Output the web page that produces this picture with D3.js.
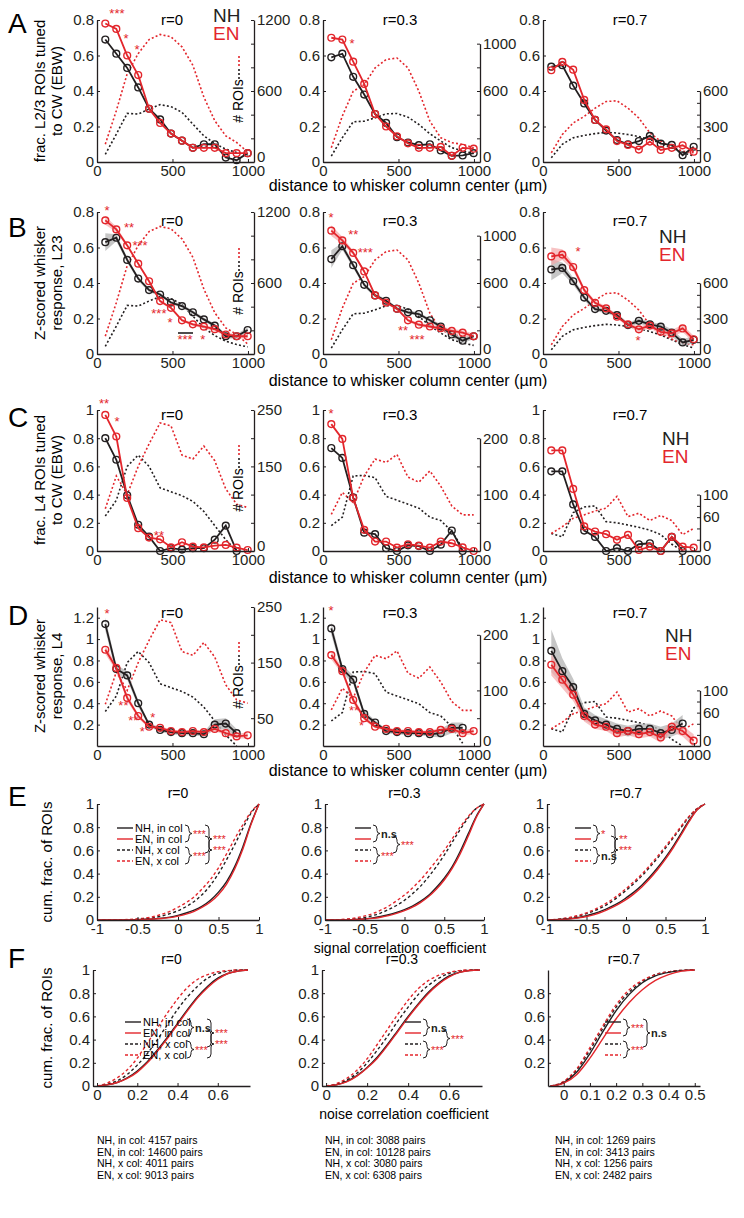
<!DOCTYPE html>
<html><head><meta charset="utf-8">
<script src="https://cdn.jsdelivr.net/npm/d3@7"></script>
<style>body{margin:0;background:#fff} svg{font-family:"Liberation Sans",Arial,sans-serif}</style>
</head><body><svg id="c" width="744" height="1218"></svg>
<script>
// ---------- data ----------
const distX = [55,128,200,273,345,418,490,563,635,708,780,853,925,998];
const distTicks = [0,500,1000];

const A_NH = [[0.69,0.61,0.53,0.42,0.30,0.24,0.16,0.12,0.08,0.10,0.10,0.025,0.01,0.05],
              [0.59,0.61,0.48,0.38,0.27,0.22,0.14,0.11,0.095,0.10,0.065,0.035,0.037,0.05],
              [0.537,0.545,0.43,0.33,0.237,0.177,0.124,0.10,0.118,0.147,0.103,0.096,0.038,0.086]];
const A_EN = [[0.78,0.75,0.60,0.49,0.30,0.22,0.16,0.12,0.08,0.08,0.08,0.05,0.05,0.05],
              [0.70,0.69,0.565,0.44,0.27,0.20,0.145,0.105,0.08,0.08,0.085,0.035,0.08,0.075],
              [0.517,0.564,0.52,0.35,0.237,0.184,0.118,0.096,0.07,0.115,0.068,0.08,0.094,0.058]];
const B_NH = [[0.63,0.655,0.53,0.425,0.36,0.335,0.29,0.27,0.235,0.195,0.16,0.10,0.10,0.135],
              [0.535,0.607,0.50,0.39,0.33,0.30,0.255,0.235,0.225,0.19,0.155,0.11,0.075,0.10],
              [0.476,0.485,0.41,0.318,0.253,0.243,0.219,0.163,0.187,0.167,0.154,0.12,0.065,0.08]];
const B_EN = [[0.753,0.702,0.612,0.509,0.41,0.298,0.26,0.19,0.167,0.154,0.14,0.11,0.10,0.10],
              [0.695,0.64,0.57,0.465,0.33,0.29,0.255,0.19,0.165,0.155,0.145,0.13,0.12,0.10],
              [0.55,0.56,0.49,0.36,0.288,0.257,0.21,0.167,0.139,0.16,0.125,0.116,0.144,0.083]];
const B_NH_sem = [[0.05,0.02,0.015,0.012,0.01,0.01,0.01,0.01,0.01,0.01,0.01,0.012,0.012,0.015],
                  [0.05,0.02,0.015,0.012,0.01,0.01,0.01,0.01,0.01,0.01,0.012,0.015,0.015,0.015],
                  [0.06,0.03,0.02,0.015,0.012,0.012,0.012,0.012,0.015,0.015,0.015,0.02,0.02,0.02]];
const B_EN_sem = [[0.025,0.015,0.01,0.01,0.008,0.008,0.008,0.008,0.008,0.01,0.01,0.01,0.012,0.012],
                  [0.03,0.02,0.012,0.01,0.008,0.008,0.008,0.008,0.01,0.01,0.01,0.012,0.012,0.015],
                  [0.05,0.03,0.02,0.015,0.012,0.012,0.012,0.012,0.015,0.015,0.015,0.02,0.02,0.02]];
const L23_NH_cnt = [[65,235,411,405,448,485,468,420,320,221,156,108,80,60],
                    [50,205,340,345,373,407,410,379,317,239,177,121,93,73],
                    [36,150,204,225,240,251,245,232,215,190,160,120,80,50]];
const L23_EN_cnt = [[150,434,746,916,1035,1078,1058,973,817,548,349,221,165,85],
                    [121,388,598,654,795,865,879,795,598,345,205,163,149,121],
                    [78,232,330,385,455,511,517,455,371,246,176,126,92,78]];
const C_NH = [[0.80,0.647,0.395,0.186,0.102,0.0,0.02,0.01,0.02,0.02,0.08,0.18,0.0],
              [0.73,0.66,0.38,0.13,0.12,0.02,0.0,0.04,0.035,0.0,0.045,0.145,0.0],
              [0.565,0.565,0.33,0.145,0.10,0.0,0.02,0.0,0.048,0.055,0.0,0.10,0.0]];
const C_EN = [[0.965,0.812,0.376,0.162,0.095,0.083,0.026,0.062,0.031,0.026,0.038,0.043,0.024,0.007],
              [0.90,0.795,0.376,0.15,0.067,0.067,0.024,0.048,0.038,0.024,0.067,0.055,0.026,0.0],
              [0.713,0.713,0.44,0.174,0.138,0.119,0.079,0.114,0.007,0.031,0.0,0.10,0.031,0.024]];
const D_NH = [[1.14,0.72,0.66,0.40,0.20,0.15,0.13,0.12,0.12,0.11,0.20,0.21,0.12],
              [1.10,0.72,0.62,0.30,0.22,0.14,0.13,0.12,0.12,0.11,0.12,0.17,0.17],
              [0.89,0.70,0.55,0.30,0.24,0.20,0.16,0.14,0.16,0.16,0.12,0.15,0.21]];
const D_EN = [[0.90,0.73,0.45,0.28,0.18,0.17,0.14,0.13,0.14,0.13,0.16,0.12,0.09,0.10],
              [0.85,0.70,0.43,0.26,0.18,0.16,0.14,0.14,0.13,0.13,0.15,0.16,0.12,0.14],
              [0.76,0.62,0.48,0.28,0.20,0.18,0.12,0.14,0.11,0.13,0.08,0.18,0.14,0.05]];
const D_NH_sem = [[0.06,0.04,0.04,0.03,0.02,0.02,0.02,0.02,0.02,0.02,0.05,0.05,0.04],
                  [0.06,0.04,0.04,0.03,0.02,0.02,0.02,0.02,0.02,0.02,0.04,0.05,0.05],
                  [0.20,0.12,0.08,0.06,0.05,0.05,0.05,0.05,0.05,0.05,0.06,0.06,0.08]];
const D_EN_sem = [[0.04,0.03,0.03,0.02,0.015,0.015,0.015,0.015,0.015,0.015,0.02,0.02,0.02,0.03],
                  [0.04,0.03,0.03,0.02,0.015,0.015,0.015,0.015,0.015,0.015,0.02,0.02,0.02,0.03],
                  [0.10,0.08,0.06,0.05,0.04,0.04,0.04,0.04,0.04,0.04,0.05,0.05,0.05,0.06]];
const L4_NH_cnt = [[62,90,150,170,150,112,105,98,88,70,45,20,0],
                   [45,60,133,134,130,97,90,83,76,60,54,35,5],
                   [31,25,68,78,80,52,50,46,42,37,29,12,0]];
const L4_EN_cnt = [[75,133,100,150,190,227,222,170,163,186,160,110,83,77],
                   [65,104,86,133,163,157,171,131,122,142,115,80,64,64],
                   [31,43,58,64,71,76,97,61,67,54,63,54,29,40]];

const sigX = [-1,-0.9,-0.8,-0.7,-0.6,-0.5,-0.4,-0.3,-0.2,-0.1,0,0.1,0.2,0.3,0.4,0.5,0.6,0.7,0.8,0.9,1];
const E_NHin = [[0,0,0,0,0,0.003,0.006,0.01,0.016,0.025,0.04,0.06,0.085,0.12,0.17,0.24,0.33,0.46,0.63,0.83,1],
                [0,0,0,0.002,0.005,0.01,0.018,0.03,0.045,0.065,0.09,0.12,0.16,0.21,0.28,0.36,0.46,0.59,0.74,0.89,1],
                [0,0.002,0.006,0.012,0.022,0.037,0.056,0.08,0.11,0.145,0.19,0.24,0.3,0.37,0.45,0.54,0.64,0.75,0.86,0.95,1]];
const E_ENin = [[0,0,0,0,0,0.002,0.004,0.008,0.013,0.02,0.033,0.05,0.075,0.11,0.155,0.22,0.31,0.44,0.61,0.82,1],
                [0,0,0,0.001,0.004,0.008,0.014,0.024,0.038,0.057,0.08,0.11,0.15,0.2,0.265,0.345,0.445,0.57,0.72,0.88,1],
                [0,0.001,0.004,0.01,0.018,0.03,0.047,0.07,0.1,0.135,0.175,0.225,0.285,0.355,0.435,0.525,0.625,0.735,0.85,0.95,1]];
const E_NHx = [[0,0,0,0,0.002,0.006,0.012,0.02,0.035,0.055,0.08,0.115,0.16,0.22,0.3,0.4,0.52,0.65,0.79,0.92,1],
               [0,0,0.002,0.006,0.012,0.022,0.038,0.06,0.09,0.125,0.17,0.225,0.29,0.37,0.46,0.56,0.67,0.78,0.88,0.96,1],
               [0,0.003,0.01,0.02,0.035,0.055,0.08,0.11,0.15,0.2,0.255,0.315,0.38,0.455,0.535,0.62,0.71,0.8,0.89,0.96,1]];
const E_ENx = [[0,0,0,0.002,0.005,0.01,0.018,0.03,0.05,0.075,0.11,0.15,0.2,0.27,0.35,0.45,0.57,0.7,0.82,0.93,1],
               [0,0.001,0.004,0.01,0.02,0.035,0.055,0.085,0.12,0.165,0.215,0.275,0.345,0.425,0.51,0.6,0.7,0.8,0.89,0.96,1],
               [0,0.004,0.012,0.024,0.04,0.062,0.09,0.125,0.165,0.215,0.27,0.33,0.395,0.47,0.55,0.635,0.72,0.81,0.895,0.96,1]];

const noiseX = [[0,0.05,0.1,0.15,0.2,0.25,0.3,0.35,0.4,0.45,0.5,0.55,0.6,0.65,0.7,0.75],
                [0,0.05,0.1,0.15,0.2,0.25,0.3,0.35,0.4,0.45,0.5,0.55,0.6,0.65,0.7,0.75],
                [-0.05,0,0.05,0.1,0.15,0.2,0.25,0.3,0.35,0.4,0.45,0.5]];
const F_NHin = [[0,0.01,0.03,0.07,0.13,0.21,0.31,0.42,0.54,0.66,0.77,0.86,0.93,0.97,0.99,1],
                [0,0.01,0.04,0.09,0.16,0.25,0.36,0.48,0.6,0.71,0.81,0.89,0.95,0.98,0.995,1],
                [0,0.03,0.12,0.28,0.47,0.65,0.79,0.89,0.95,0.98,0.995,1]];
const F_ENin = [[0,0.01,0.03,0.065,0.12,0.2,0.3,0.41,0.53,0.65,0.76,0.85,0.92,0.97,0.99,1],
                [0,0.01,0.035,0.085,0.155,0.24,0.35,0.47,0.59,0.7,0.8,0.88,0.94,0.98,0.995,1],
                [0,0.025,0.1,0.24,0.41,0.58,0.72,0.83,0.91,0.96,0.99,1]];
const F_NHx = [[0,0.015,0.045,0.1,0.18,0.28,0.4,0.53,0.66,0.77,0.86,0.93,0.97,0.99,1,1],
               [0,0.015,0.05,0.11,0.2,0.31,0.43,0.56,0.68,0.79,0.87,0.93,0.97,0.99,1,1],
               [0,0.035,0.14,0.31,0.5,0.68,0.81,0.9,0.96,0.985,0.997,1]];
const F_ENx = [[0,0.025,0.07,0.14,0.24,0.37,0.5,0.63,0.75,0.85,0.92,0.96,0.985,0.995,1,1],
               [0,0.02,0.065,0.135,0.235,0.36,0.49,0.62,0.74,0.84,0.91,0.955,0.98,0.995,1,1],
               [0,0.04,0.15,0.33,0.52,0.7,0.83,0.91,0.96,0.985,0.997,1]];

const rLabels = ["r=0","r=0.3","r=0.7"];
const legLabels = ["NH, in col","EN, in col","NH, x col","EN, x col"];
const pairText = [["NH, in col: 4157 pairs","EN, in col: 14600 pairs","NH, x col: 4011 pairs","EN, x col: 9013 pairs"],
                  ["NH, in col: 3088 pairs","EN, in col: 10128 pairs","NH, x col: 3080 pairs","EN, x col: 6308 pairs"],
                  ["NH, in col: 1269 pairs","EN, in col: 3413 pairs","NH, x col: 1256 pairs","EN, x col: 2482 pairs"]];

// ---------- drawing ----------
const RED = "#e3262c", BLK = "#231f20";
const svg = d3.select("#c");
const COLS = [[97,254],[323,480],[543,700]];
const TITLE_X = [172,400,630];
const FS = 15;

function styleAxis(a) {
  a.selectAll("path.domain").attr("stroke",BLK).attr("stroke-width",1.3);
  a.selectAll(".tick line").attr("stroke",BLK).attr("stroke-width",1);
  a.selectAll("text").attr("font-size",FS).attr("fill",BLK).attr("font-family","Liberation Sans, Arial, sans-serif");
}
function mkAxis(g, gen, tr, vals, labs) {
  const ax = gen.tickValues(vals).tickSizeInner(-3).tickSizeOuter(0).tickPadding(3).tickFormat((d,i)=>labs[i]);
  const a = g.append("g").attr("transform",tr).call(ax);
  styleAxis(a);
  return a;
}

function distPanel(o) {
  const [x0,x1] = COLS[o.col];
  const g = svg.append("g");
  const x = d3.scaleLinear().domain([0,1040]).range([x0,x1]);
  const y = d3.scaleLinear().domain(o.yDom).range([o.bottom,o.top]);
  const yr = d3.scaleLinear().domain(o.rDom).range([o.bottom,o.top]);
  const lineR = d3.line().x((d,i)=>x(distX[i])).y(d=>yr(d));
  g.append("path").attr("d",lineR(o.nhCnt)).attr("fill","none").attr("stroke",BLK).attr("stroke-width",1.6).attr("stroke-dasharray","2,2.2");
  g.append("path").attr("d",lineR(o.enCnt)).attr("fill","none").attr("stroke",RED).attr("stroke-width",1.6).attr("stroke-dasharray","2,2.2");
  if (o.nhSem) {
    const area = (vals, sem) => d3.area().x((d,i)=>x(distX[i])).y0((d,i)=>y(vals[i]-sem[i])).y1((d,i)=>y(vals[i]+sem[i]))(vals);
    g.append("path").attr("d",area(o.nh,o.nhSem)).attr("fill","#b8b8b8").attr("opacity",0.8);
    g.append("path").attr("d",area(o.en,o.enSem)).attr("fill","#f4a8aa").attr("opacity",0.7);
  }
  const line = d3.line().x((d,i)=>x(distX[i])).y(d=>y(d));
  [[o.nh,BLK],[o.en,RED]].forEach(([vals,c])=>{
    g.append("path").attr("d",line(vals)).attr("fill","none").attr("stroke",c).attr("stroke-width",1.8);
    g.selectAll(null).data(vals).enter().append("circle")
      .attr("cx",(d,i)=>x(distX[i])).attr("cy",d=>y(d)).attr("r",3.4)
      .attr("fill","none").attr("stroke",c).attr("stroke-width",1.4);
  });
  mkAxis(g, d3.axisLeft(y), `translate(${x0},0)`, o.yTicks, o.yLabs);
  mkAxis(g, d3.axisBottom(x), `translate(0,${o.bottom})`, distTicks, distTicks.map(String));
  const ra = d3.scaleLinear().domain([o.rDom[0], o.rMax]).range([yr(o.rDom[0]), yr(o.rMax)]);
  const rax = mkAxis(g, d3.axisRight(ra), `translate(${x1},0)`, o.rTicks, o.rTicks.map(v=>o.rLabs.includes(v)?String(v):""));
  rax.selectAll("text").filter(d=>d===0).attr("dy","-0.05em");
  g.append("text").attr("x",TITLE_X[o.col]).attr("y",o.titleY).attr("text-anchor","middle").attr("font-size",15).text(rLabels[o.col]);
  (o.stars||[]).forEach(s=>{
    g.append("text").attr("x",x(s[0])).attr("y",y(s[1])+5).attr("text-anchor","middle").attr("font-size",13).attr("fill",RED).text(s[2]);
  });
}

function legendNHEN(x, y) {
  svg.append("text").attr("x",x).attr("y",y).attr("font-size",19).attr("fill",BLK).text("NH");
  svg.append("text").attr("x",x).attr("y",y+18).attr("font-size",19).attr("fill",RED).text("EN");
}
function roiLabel(x, yc) {
  svg.append("text").attr("transform",`translate(${x},${yc}) rotate(-90)`).attr("text-anchor","middle").attr("font-size",14).text("# ROIs");
  svg.append("line").attr("x1",x-4).attr("x2",x-4).attr("y1",yc-22).attr("y2",yc-34).attr("stroke",BLK).attr("stroke-width",1.6).attr("stroke-dasharray","2,2");
  svg.append("line").attr("x1",x-4).attr("x2",x-4).attr("y1",yc-35).attr("y2",yc-46).attr("stroke",RED).attr("stroke-width",1.6).attr("stroke-dasharray","2,2");
}
function ylab2(x, yc, l1, l2) {
  svg.append("text").attr("transform",`translate(${x},${yc}) rotate(-90)`).attr("text-anchor","middle").attr("font-size",15).text(l1);
  svg.append("text").attr("transform",`translate(${x+17},${yc}) rotate(-90)`).attr("text-anchor","middle").attr("font-size",15).text(l2);
}
function letter(t, x, y) { svg.append("text").attr("x",x).attr("y",y).attr("font-size",28).text(t); }
function xlab(t, y) { svg.append("text").attr("x",408).attr("y",y).attr("text-anchor","middle").attr("font-size",16).text(t); }

const XL = "distance to whisker column center (\u00b5m)";
const ticks08 = [0,0.2,0.4,0.6,0.8], labs08 = ["0","0.2","0.4","0.6","0.8"];
const rA = [[0,200,400,600,800,1000,1200],[0,200,400,600,800,1000],[0,100,200,300,400,500,600]];
const rAL = [[0,600,1200],[0,600,1000],[0,300,600]];
const rAmax = [1200,1000,600];

const starsA = [[[132,0.84,"***"],[192,0.70,"*"],[265,0.635,"*"]],[[192,0.67,"*"]],[]];
for (let c=0;c<3;c++) distPanel({col:c, top:20, bottom:162, titleY:25, yDom:[0,0.8], yTicks:ticks08, yLabs:labs08,
  rDom:[0,1200], rMax:rAmax[c], rTicks:rA[c], rLabs:rAL[c], nh:A_NH[c], en:A_EN[c], nhCnt:L23_NH_cnt[c], enCnt:L23_EN_cnt[c], stars:starsA[c]});
const starsB = [[[66,0.81,"*"],[212,0.715,"**"],[285,0.615,"***"],[410,0.23,"***"],[483,0.18,"*"],[583,0.085,"***"],[700,0.085,"*"]],
                [[53,0.77,"*"],[200,0.675,"**"],[280,0.575,"***"],[530,0.135,"**"],[623,0.085,"***"]],
                [[232,0.58,"*"],[630,0.08,"*"]]];
for (let c=0;c<3;c++) distPanel({col:c, top:212, bottom:354, titleY:226, yDom:[0,0.8], yTicks:ticks08, yLabs:labs08,
  rDom:[0,1200], rMax:rAmax[c], rTicks:rA[c], rLabs:rAL[c], nh:B_NH[c], en:B_EN[c], nhSem:B_NH_sem[c], enSem:B_EN_sem[c],
  nhCnt:L23_NH_cnt[c], enCnt:L23_EN_cnt[c], stars:starsB[c]});
svg.append("line").attr("x1",178).attr("x2",193).attr("y1",333).attr("y2",333).attr("stroke",BLK).attr("stroke-width",1.6);

const rC = [[0,50,100,150,200,250],[0,50,100,150,200],[0,20,40,60,80,100]];
const rCL = [[0,150,250],[0,100,200],[0,60,100]];
const rCmax = [250,200,100];
const starsC = [[[46,1.05,"**"],[132,0.92,"*"],[410,0.11,"**"]],[[53,0.98,"*"]],[]];
for (let c=0;c<3;c++) distPanel({col:c, top:410, bottom:551, titleY:420, yDom:[0,1], yTicks:[0,0.2,0.4,0.6,0.8,1], yLabs:["0","0.2","0.4","0.6","0.8","1"],
  rDom:[0,250], rMax:rCmax[c], rTicks:rC[c], rLabs:rCL[c], nh:C_NH[c], en:C_EN[c], nhCnt:L4_NH_cnt[c], enCnt:L4_EN_cnt[c], stars:starsC[c]});

const D_TOP = 607, D_BOT = 746;
const rD = [[0,50,100,150,200,250],[0,50,100,150,200],[0,20,40,60,80,100]];
const rDL = [[50,150,250],[0,100,200],[0,60,100]];
const starsD = [[[66,1.24,"*"],[175,0.38,"**"],[240,0.24,"**"],[300,0.14,"*"],[370,0.27,"*"]],
                [[53,1.27,"*"],[205,0.34,"**"],[255,0.2,"*"],[330,0.2,"*"]],[]];
for (let c=0;c<3;c++) distPanel({col:c, top:D_TOP, bottom:D_BOT, titleY:618, yDom:[0,1.3], yTicks:[0.2,0.4,0.6,0.8,1,1.2], yLabs:["0.2","0.4","0.6","0.8","1","1.2"],
  rDom:[0,250], rMax:rCmax[c], rTicks:rD[c], rLabs:rDL[c], nh:D_NH[c], en:D_EN[c], nhSem:D_NH_sem[c], enSem:D_EN_sem[c],
  nhCnt:L4_NH_cnt[c], enCnt:L4_EN_cnt[c], stars:starsD[c]});

letter("A",8,33); letter("B",8,237); letter("C",8,427); letter("D",8,625);
legendNHEN(213,22); legendNHEN(659,243); legendNHEN(662,445); legendNHEN(665,642);
roiLabel(243,101); roiLabel(243,293); roiLabel(243,490); roiLabel(243,687);
ylab2(45,91,"frac. L2/3 ROIs tuned","to CW (EBW)");
ylab2(45,283,"Z-scored whisker","response, L23");
ylab2(45,480,"frac. L4 ROIs tuned","to CW (EBW)");
ylab2(45,676,"Z-scored whisker","response, L4");
xlab(XL,191); xlab(XL,386); xlab(XL,583); xlab(XL,D_BOT+30);

// ---------- CDF panels ----------
const E_TOP = 804, E_BOT = 920, F_TOP = 970, F_BOT = 1086, TXT_Y = 1144;
function cdfPanel(o) {
  const [x0,x1] = o.cols;
  const g = svg.append("g");
  const x = d3.scaleLinear().domain(o.xDom).range([x0,x1]);
  const y = d3.scaleLinear().domain([0,1]).range([o.bottom,o.top]);
  const line = d3.line().x((d,i)=>x(o.xs[i])).y(d=>y(d)).curve(d3.curveMonotoneX);
  [[o.nhx,BLK,"3,2.5"],[o.enx,RED,"3,2.5"],[o.nhin,BLK,null],[o.enin,RED,null]].forEach(([v,c,da])=>{
    const p = g.append("path").attr("d",line(v)).attr("fill","none").attr("stroke",c).attr("stroke-width",1.4);
    if (da) p.attr("stroke-dasharray",da);
  });
  mkAxis(g, d3.axisLeft(y), `translate(${x0},0)`, o.yTicks, o.yTicks.map(v=>String(v)));
  mkAxis(g, d3.axisBottom(x), `translate(0,${o.bottom})`, o.xTicks, o.xTicks.map(v=>String(v)));
  g.append("text").attr("x",(x0+x1)/2).attr("y",o.top-6).attr("text-anchor","middle").attr("font-size",14).text(rLabels[o.col]);
}
function cdfLegend(x, y, withLabels, marks) {
  const dy = 11;
  const styles = [[BLK,null],[RED,null],[BLK,"3,2"],[RED,"3,2"]];
  styles.forEach(([c,da],i)=>{
    const l = svg.append("line").attr("x1",x).attr("x2",x+16).attr("y1",y+i*dy).attr("y2",y+i*dy).attr("stroke",c).attr("stroke-width",1.4);
    if (da) l.attr("stroke-dasharray",da);
    if (withLabels) svg.append("text").attr("x",x+18).attr("y",y+i*dy+4).attr("font-size",11).text(legLabels[i]);
  });
  marks.forEach(m=>{
    const y0 = y+m[1]*dy-3, y1 = y+m[2]*dy+3, xm = x+m[0];
    const ym = (y0+y1)/2;
    svg.append("path").attr("d",`M${xm},${y0} q4,0 4,4 L${xm+4},${ym-3} q0,3 3,3 q-3,0 -3,3 L${xm+4},${y1-4} q0,4 -4,4`)
      .attr("fill","none").attr("stroke",BLK).attr("stroke-width",1);
    svg.append("text").attr("x",xm+8).attr("y",ym+4).attr("font-size",11).attr("font-weight",m[4]===BLK?"bold":"normal").attr("fill",m[4]).text(m[3]);
  });
}
const eCols = [[97,259],[325,484],[547,705]];
for (let c=0;c<3;c++) cdfPanel({col:c, cols:eCols[c], top:E_TOP, bottom:E_BOT, xDom:[-1,1], xs:sigX,
  nhin:E_NHin[c], enin:E_ENin[c], nhx:E_NHx[c], enx:E_ENx[c], yTicks:[0,0.2,0.4,0.6,0.8,1], xTicks:[-1,-0.5,0,0.5,1]});
const fCols = [[93,250],[322,482],[548,700]];
const fDom = [[-0.02,0.76],[-0.02,0.76],[-0.06,0.52]];
const fXT = [[0,0.2,0.4,0.6],[0,0.2,0.4,0.6],[0,0.1,0.2,0.3,0.4,0.5]];
for (let c=0;c<3;c++) cdfPanel({col:c, cols:fCols[c], top:F_TOP, bottom:F_BOT, xDom:fDom[c], xs:noiseX[c],
  nhin:F_NHin[c], enin:F_ENin[c], nhx:F_NHx[c], enx:F_ENx[c], yTicks:c<2?[0,0.2,0.4,0.6,0.8,1]:[0.2,0.4,0.6,0.8], xTicks:fXT[c]});

cdfLegend(117, E_TOP+24, true, [[68,0,1,"***",RED],[88,0,2,"***",RED],[68,2,3,"***",RED],[88,1,3,"***",RED]]);
cdfLegend(355, E_TOP+24, false, [[18,0,1,"n.s",BLK],[38,1,2,"***",RED],[18,2,3,"***",RED]]);
cdfLegend(575, E_TOP+24, false, [[18,0,1,"*",RED],[36,0,2,"**",RED],[18,2,3,"n.s",BLK],[36,1,3,"***",RED]]);
cdfLegend(125, F_TOP+52, true, [[62,0,1,"n.s",BLK],[82,0,2,"***",RED],[62,2,3,"***",RED],[82,1,3,"***",RED]]);
cdfLegend(405, F_TOP+52, false, [[18,0,1,"n.s",BLK],[38,1,2,"***",RED],[18,2,3,"***",RED]]);
cdfLegend(605, F_TOP+52, false, [[18,0,1,"***",RED],[38,0,2,"n.s",BLK],[18,2,3,"***",RED]]);

letter("E",8,E_TOP+2); letter("F",8,F_TOP-2);
svg.append("text").attr("transform",`translate(52,${(E_TOP+E_BOT)/2}) rotate(-90)`).attr("text-anchor","middle").attr("font-size",15).text("cum. frac. of ROIs");
svg.append("text").attr("transform",`translate(52,${(F_TOP+F_BOT)/2}) rotate(-90)`).attr("text-anchor","middle").attr("font-size",15).text("cum. frac. of ROIs");
svg.append("text").attr("x",400).attr("y",E_BOT+33).attr("text-anchor","middle").attr("font-size",14).text("signal correlation coefficient");
svg.append("text").attr("x",404).attr("y",F_BOT+33).attr("text-anchor","middle").attr("font-size",14).text("noise correlation coefficient");

const txX = [97,325,555];
pairText.forEach((lines,c)=>lines.forEach((t,i)=>{
  svg.append("text").attr("x",txX[c]).attr("y",TXT_Y+i*11.5).attr("font-size",10.5).text(t);
}));
</script>
</body></html>
